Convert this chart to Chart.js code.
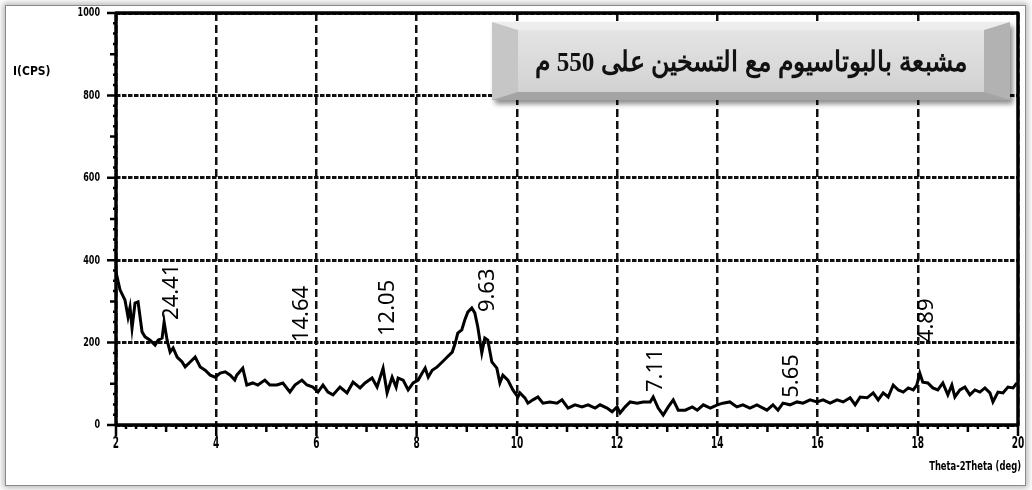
<!DOCTYPE html>
<html>
<head>
<meta charset="utf-8">
<script src="https://cdn.jsdelivr.net/npm/chart.js@4.4.1/dist/chart.umd.min.js"></script>
<style>
  html, body { margin: 0; padding: 0; width: 1032px; height: 490px; overflow: hidden; background: #fff; }
  #frame {
    position: absolute; left: 5px; top: 5px; width: 1021px; height: 481px; box-sizing: border-box;
    border: 1px solid #8a8a8a; background: #fff;
    box-shadow: 0 0 6px 2px rgba(0,0,0,0.28);
  }
  #plot { position: absolute; left: 0; top: 0; z-index: 1; }
  #banner {
    position: absolute; z-index: 2; left: 492px; top: 22px; width: 518px; height: 78px; box-sizing: border-box;
    border-style: solid; border-width: 8px 26px;
    border-color: #ededed #b2b2b2 #a4a4a4 #c6c6c6;
    background: linear-gradient(#e4e4e4, #d2d2d2);
    box-shadow: 3px 4px 5px rgba(0,0,0,0.45);
    display: flex; align-items: center; justify-content: center;
    white-space: nowrap; overflow: visible;
  }
  #banner span {
    display: inline-block; transform: scaleX(0.9);
    font: bold 28px 'Liberation Serif', 'DejaVu Serif', serif; color: #111; direction: rtl;
  }
</style>
</head>
<body>
<div id="frame"></div>
<canvas id="plot" width="1032" height="490"></canvas>
<div id="banner"><span>مشبعة بالبوتاسيوم مع التسخين على 550 م</span></div>
<script>
// Diffractogram: 2θ (degrees) and intensity (counts per second)
const twoTheta = [
  2.00, 2.08, 2.18, 2.24, 2.28, 2.32, 2.38, 2.44, 2.52, 2.58, 2.68, 2.78, 2.84, 2.92, 2.96, 3.02,
  3.08, 3.14, 3.22, 3.32, 3.38, 3.48, 3.58, 3.68, 3.78, 3.88, 3.98, 4.08, 4.18, 4.28, 4.37, 4.41,
  4.53, 4.61, 4.73, 4.83, 4.97, 5.07, 5.21, 5.33, 5.47, 5.57, 5.71, 5.81, 5.93, 6.03,
  6.13, 6.23, 6.33, 6.47, 6.61, 6.73, 6.87, 6.97, 7.11, 7.21, 7.33, 7.41, 7.51, 7.59, 7.63, 7.73,
  7.83, 7.93, 8.03, 8.11, 8.17, 8.23, 8.31, 8.41, 8.51, 8.61, 8.71, 8.77, 8.82, 8.90, 8.96, 9.02,
  9.10, 9.16, 9.22, 9.30, 9.36, 9.42, 9.50, 9.60, 9.66, 9.72, 9.82, 9.92, 10.02,
  10.06, 10.16, 10.22, 10.32, 10.42, 10.52, 10.66, 10.80, 10.90, 11.02, 11.16, 11.30, 11.42, 11.56,
  11.66, 11.80, 11.90, 12.00, 12.06, 12.16, 12.26, 12.40, 12.52, 12.66, 12.72, 12.82, 12.92, 13.02,
  13.12, 13.22, 13.36, 13.50, 13.60, 13.72, 13.86, 14.00, 14.11, 14.25, 14.39, 14.51, 14.65, 14.79,
  14.99, 15.11, 15.21, 15.31, 15.45, 15.59, 15.71, 15.85, 15.99, 16.11, 16.25, 16.39, 16.51, 16.65,
  16.75, 16.85, 16.99, 17.11, 17.21, 17.31, 17.41, 17.51, 17.61, 17.71, 17.81, 17.91, 17.98, 18.04,
  18.10, 18.20, 18.30, 18.40, 18.50, 18.60, 18.68, 18.74, 18.84, 18.94, 19.04, 19.14, 19.24, 19.34,
  19.44, 19.50, 19.60, 19.70, 19.80, 19.90, 19.98
];
const intensity = [
  371, 328, 303, 262, 286, 235, 296, 299, 226, 214, 206, 194, 206, 211, 250, 206,
  177, 187, 165, 153, 141, 153, 165, 141, 133, 121, 116, 126, 129, 121, 109, 121,
  138, 97, 102, 97, 109, 97, 97, 102, 80, 97, 109, 97, 92, 80,
  97, 80, 73, 92, 78, 104, 90, 102, 114, 92, 138, 78, 116, 92, 114, 109,
  85, 102, 109, 126, 138, 116, 133, 141, 153, 165, 177, 199, 223, 231, 255, 274,
  284, 272, 238, 175, 211, 206, 153, 138, 102, 121, 109, 85, 68,
  78, 66, 53, 61, 68, 53, 56, 53, 61, 41, 49, 44, 49, 41,
  49, 41, 32, 44, 29, 44, 56, 53, 56, 56, 68, 41, 24, 44,
  61, 36, 36, 44, 36, 49, 41, 49, 53, 56, 44, 49, 41, 49,
  36, 49, 36, 53, 49, 56, 53, 61, 56, 61, 53, 61, 56, 66,
  49, 68, 66, 78, 61, 78, 68, 97, 85, 80, 90, 85, 97, 126,
  104, 102, 90, 85, 102, 73, 97, 68, 85, 92, 73, 85, 80, 90,
  78, 56, 80, 78, 92, 90, 102
];

// d-spacing annotations (Å) with the 2θ / intensity where each label starts
const peakText = ['24.41', '14.64', '12.05', '9.63', '7.11', '5.65', '4.89'];
const peakLabel2Theta = [3.12, 5.71, 7.43, 9.42, 12.78, 15.49, 18.18];
const peakLabelBase = [255, 201, 216, 274, 80, 66, 201];

// axis tick labels
const xTickValues = [2, 4, 6, 8, 10, 12, 14, 16, 18, 20];
const xTickLabels = ['2', '4', '6', '8', '10', '12', '14', '16', '18', '20'];
const yTickValues = [0, 200, 400, 600, 800, 1000];
const yTickLabels = ['0', '200', '400', '600', '800', '1000'];
const xTitle = 'Theta-2Theta (deg)';
const yTitle = 'I(CPS)';

const points = twoTheta.map((t, i) => ({ x: t, y: intensity[i] }));

// outlined frame, minor ticks, blocky tick labels, axis titles and d-spacing labels
const decorations = {
  id: 'decorations',
  afterDraw(chart) {
    const { ctx, chartArea: a, scales: { x, y } } = chart;
    ctx.save();
    ctx.setLineDash([]);
    ctx.strokeStyle = '#000';
    ctx.fillStyle = '#000';

    // tick marks: 0.2° / 25 cps minor, odd degrees / 100 cps medium, labelled ones long
    ctx.lineWidth = 2.5;
    ctx.beginPath();
    for (let i = 0; i <= 90; i++) {
      const px = x.getPixelForValue(2 + i * 0.2);
      const len = i % 10 === 0 ? 11 : (i % 5 === 0 ? 7 : 4);
      ctx.moveTo(px, a.bottom);
      ctx.lineTo(px, a.bottom + len);
    }
    for (let i = 0; i <= 40; i++) {
      const py = y.getPixelForValue(i * 25);
      const len = i % 8 === 0 ? 9 : (i % 4 === 0 ? 6 : 3);
      ctx.moveTo(a.left, py);
      ctx.lineTo(a.left - len, py);
    }
    ctx.stroke();

    // plot frame
    ctx.lineWidth = 3.5;
    ctx.lineJoin = 'round';
    ctx.strokeRect(a.left, a.top, a.right - a.left, a.bottom - a.top);

    // tick labels (narrow heavy digits)
    ctx.textBaseline = 'middle';
    ctx.font = 'bold 15px "DejaVu Sans"';
    ctx.textAlign = 'center';
    xTickValues.forEach((v, i) => {
      ctx.save();
      ctx.translate(x.getPixelForValue(v), a.bottom + 19);
      ctx.scale(0.6, 1);
      ctx.fillText(xTickLabels[i], 0, 0);
      ctx.restore();
    });
    ctx.font = 'bold 13px "DejaVu Sans"';
    ctx.textAlign = 'right';
    yTickValues.forEach((v, i) => {
      ctx.save();
      ctx.translate(a.left - 16, y.getPixelForValue(v));
      ctx.scale(0.62, 1);
      ctx.fillText(yTickLabels[i], 0, 0);
      ctx.restore();
    });

    // axis titles
    ctx.font = 'bold 12px "DejaVu Sans"';
    ctx.save();
    ctx.translate(13, 72);
    ctx.scale(0.9, 1);
    ctx.textAlign = 'left';
    ctx.fillText(yTitle, 0, 0);
    ctx.restore();
    ctx.save();
    ctx.translate(1021, 467);
    ctx.scale(0.7, 1);
    ctx.textAlign = 'right';
    ctx.fillText(xTitle, 0, 0);
    ctx.restore();

    // d-spacing labels, reading upward
    ctx.font = '22px "Noto Sans", "Open Sans", sans-serif';
    ctx.fillStyle = '#000';
    ctx.textAlign = 'left';
    ctx.textBaseline = 'middle';
    peakText.forEach((t, i) => {
      ctx.save();
      ctx.translate(x.getPixelForValue(peakLabel2Theta[i]), y.getPixelForValue(peakLabelBase[i]));
      ctx.rotate(-Math.PI / 2);
      ctx.fillText(t, 0, 0);
      ctx.restore();
    });
    ctx.restore();
  }
};

new Chart(document.getElementById('plot'), {
  type: 'line',
  data: {
    datasets: [{
      data: points,
      borderColor: '#000',
      borderWidth: 3,
      pointRadius: 0,
      tension: 0,
      fill: false
    }]
  },
  options: {
    responsive: false,
    animation: false,
    devicePixelRatio: 1,
    layout: { padding: { left: 0, top: 13, right: 14, bottom: 0 } },
    plugins: { legend: { display: false }, tooltip: { enabled: false } },
    scales: {
      x: {
        type: 'linear', min: 2, max: 20,
        ticks: { stepSize: 2, display: false },
        grid: { color: '#111', lineWidth: 2.5, drawTicks: false },
        border: { display: false, dash: [8, 4] },
        afterFit(s) { s.height = 65; }
      },
      y: {
        type: 'linear', min: 0, max: 1000,
        ticks: { stepSize: 200, display: false },
        grid: { color: '#111', lineWidth: 3, drawTicks: false },
        border: { display: false, dash: [4.5, 1.5] },
        afterFit(s) { s.width = 116; }
      }
    }
  },
  plugins: [decorations]
});
</script>
</body>
</html>
